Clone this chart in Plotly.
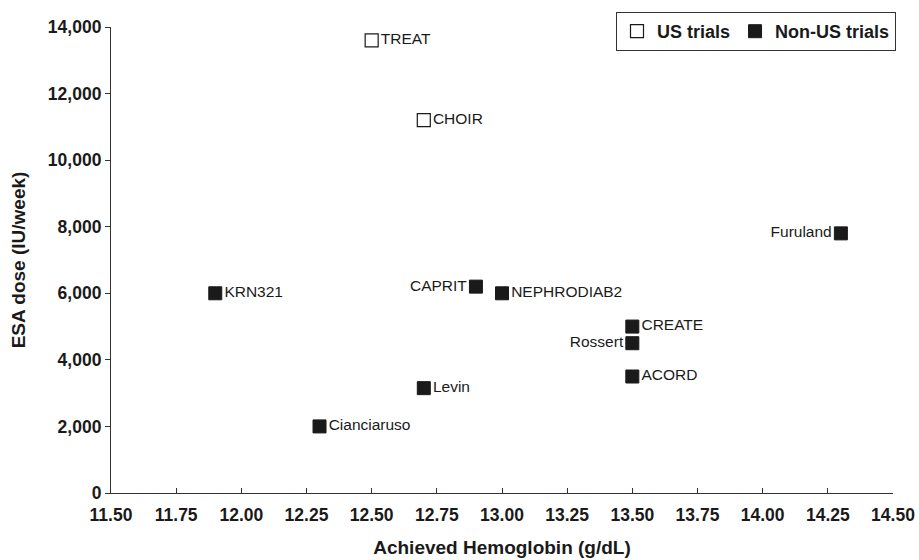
import plotly.graph_objects as go

# US trials
us_names = ["TREAT", "CHOIR"]
us_hb = [12.50, 12.70]
us_dose = [13600, 11200]
us_pos = ["middle right", "middle right"]

# Non-US trials
non_names = ["KRN321", "CAPRIT", "NEPHRODIAB2", "Furuland", "CREATE", "Rossert",
             "ACORD", "Levin", "Cianciaruso"]
non_hb = [11.90, 12.90, 13.00, 14.30, 13.50, 13.50, 13.50, 12.70, 12.30]
non_dose = [6000, 6200, 6000, 7800, 5000, 4500, 3500, 3150, 2000]
non_pos = ["middle right", "middle left", "middle right", "middle left", "middle right",
           "middle left", "middle right", "middle right", "middle right"]

x_ticks = [11.50, 11.75, 12.00, 12.25, 12.50, 12.75, 13.00, 13.25, 13.50, 13.75,
           14.00, 14.25, 14.50]
y_ticks = [0, 2000, 4000, 6000, 8000, 10000, 12000, 14000]

FONT = "Liberation Sans, Arial, sans-serif"
INK = "#1a1a1a"

fig = go.Figure()
fig.add_trace(go.Scatter(
    x=us_hb, y=us_dose, mode="markers+text", name="US trials",
    text=us_names, textposition=us_pos,
    textfont=dict(family=FONT, size=15.5, color=INK),
    marker=dict(symbol="square", size=13, color="white",
                line=dict(color=INK, width=1.2)),
    cliponaxis=False,
))
fig.add_trace(go.Scatter(
    x=non_hb, y=non_dose, mode="markers+text", name="Non-US trials",
    text=non_names, textposition=non_pos,
    textfont=dict(family=FONT, size=15.5, color=INK),
    marker=dict(symbol="square", size=13, color=INK,
                line=dict(color=INK, width=1)),
    cliponaxis=False,
))

fig.update_layout(
    width=919, height=560,
    margin=dict(l=111, r=26, t=27, b=67, autoexpand=False),
    paper_bgcolor="white", plot_bgcolor="white",
    font=dict(family=FONT, color=INK),
    showlegend=True,
    legend=dict(
        orientation="h", xref="container", x=896 / 919, xanchor="right",
        yref="container", y=1 - 12 / 560, yanchor="top",
        bordercolor="#333333", borderwidth=1, bgcolor="white",
        font=dict(family=FONT, size=18, color=INK, weight="bold"),
        itemsizing="trace", tracegroupgap=0,
    ),
    xaxis=dict(
        range=[11.5, 14.5], tickvals=x_ticks,
        ticktext=[f"{v:.2f}" for v in x_ticks],
        showgrid=False, zeroline=False, automargin=False,
        showline=True, linecolor="#333333", linewidth=1.2,
        ticks="inside", ticklen=5, tickcolor="#333333", tickwidth=1.2,
        tickfont=dict(family=FONT, size=17.5, color=INK, weight="bold"),
        ticklabelstandoff=6,
        title=dict(text="Achieved Hemoglobin (g/dL)", standoff=16,
                   font=dict(family=FONT, size=19, color=INK, weight="bold")),
    ),
    yaxis=dict(
        range=[0, 14000], tickvals=y_ticks,
        ticktext=[f"{v:,}" for v in y_ticks],
        showgrid=False, zeroline=False, automargin=False,
        showline=True, linecolor="#333333", linewidth=1.2,
        ticks="outside", ticklen=5, tickcolor="#333333", tickwidth=1.2,
        tickfont=dict(family=FONT, size=17.5, color=INK, weight="bold"),
        title=dict(text="ESA dose (IU/week)", standoff=17,
                   font=dict(family=FONT, size=19, color=INK, weight="bold")),
    ),
)

fig.write_html("out.html", config={"displayModeBar": False},
               post_script="document.body.style.margin='0';")
